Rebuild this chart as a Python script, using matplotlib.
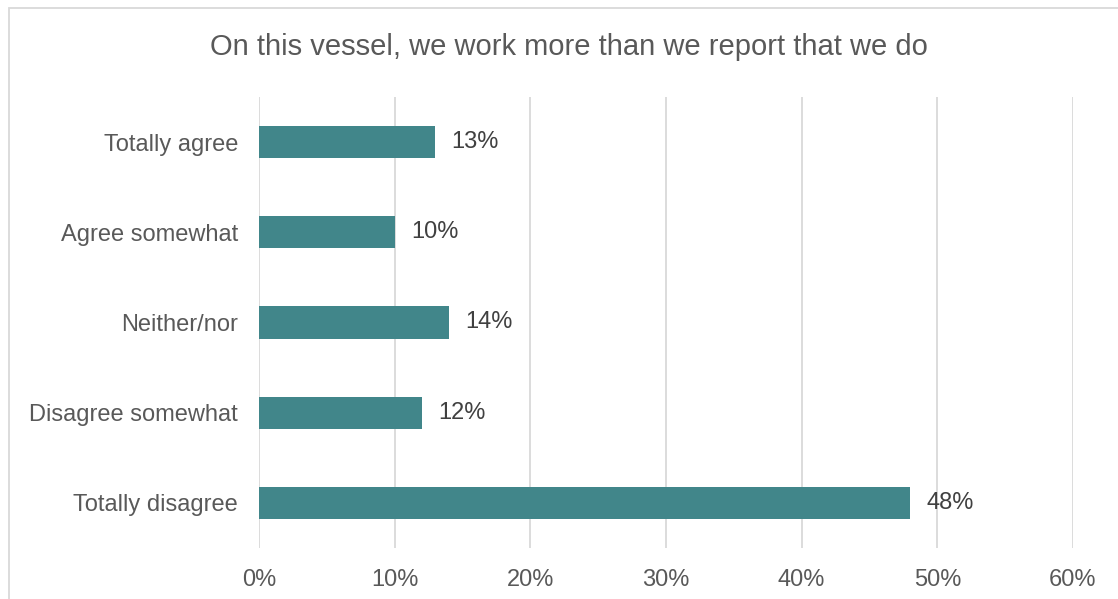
import matplotlib.pyplot as plt
from matplotlib.patches import Rectangle

plt.rcParams['font.family'] = ['Liberation Sans', 'DejaVu Sans']

categories = ["Totally agree", "Agree somewhat", "Neither/nor", "Disagree somewhat", "Totally disagree"]
values = [13, 10, 14, 12, 48]
xticks = [0, 10, 20, 30, 40, 50, 60]
title = "On this vessel, we work more than we report that we do"

text_col = "#595959"
grid_col = "#d9d9d9"
bar_col = "#41868a"

W, H = 1118, 599
fig = plt.figure(figsize=(W / 100, H / 100), dpi=100)

# cadre du graphique (seuls les bords gauche et haut sont visibles)
fig.patches.append(Rectangle((8.5 / W, -0.1), 1.2, 1.1 - 8.5 / H, transform=fig.transFigure,
                             fill=False, edgecolor=grid_col, linewidth=1.3))

ax = fig.add_axes([259 / W, 1 - 548 / H, (1073 - 259) / W, (548 - 97) / H])
y = list(range(len(categories)))
ax.barh(y, values, height=0.355, color=bar_col, zorder=3)
for yi, v in zip(y, values):
    ax.text(v + 1.2, yi, f"{v}%", va="center", ha="left", fontsize=17, color="#404040")

ax.set_xlim(0, 60)
ax.set_ylim(len(categories) - 0.5, -0.5)
ax.set_xticks(xticks)
ax.set_xticklabels([f"{t}%" for t in xticks])
ax.set_yticks(y)
ax.set_yticklabels(categories)
ax.tick_params(axis="both", length=0, labelsize=17, labelcolor=text_col)
ax.tick_params(axis="x", pad=15)
ax.tick_params(axis="y", pad=15)
ax.grid(axis="x", color=grid_col, linewidth=1.3, zorder=0)
for s in ax.spines.values():
    s.set_visible(False)

fig.text(0.5085, 1 - 47 / H, title, ha="center", va="center", fontsize=21, color=text_col)

fig.savefig("out.png", dpi=100)
